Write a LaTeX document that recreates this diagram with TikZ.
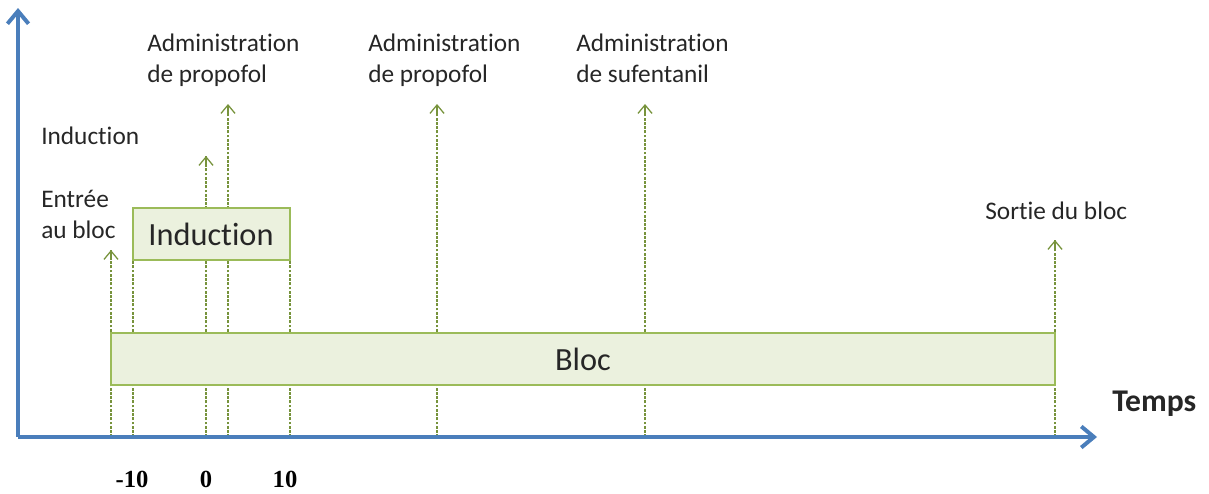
\documentclass[tikz,border=0pt]{standalone}
\usepackage{fontspec}
\setmainfont[Ligatures=NoCommon]{Carlito}
\newfontfamily\tickfont{Liberation Serif}
\usetikzlibrary{arrows.meta,calc,positioning}
\definecolor{axeblue}{RGB}{74,126,187}
\definecolor{vertfil}{RGB}{119,147,60}
\definecolor{vertbord}{RGB}{155,187,89}
\definecolor{vertfond}{RGB}{235,241,222}

\begin{document}
\begin{tikzpicture}[x=0.025cm,y=-0.025cm,
    axe/.style={draw=axeblue,line width=2.8pt,-{Straight Barb[length=9pt,width=15pt]}},
    trait/.style={draw=vertfil,line width=0.8pt,dash pattern=on 2pt off 1pt},
    pointe/.style={draw=vertfil,line width=0.9pt,solid,-{Straight Barb[length=6pt,width=10pt]}},
    boite/.style={draw=vertbord,fill=vertfond,line width=1pt},
    lbl/.style={anchor=north west,inner sep=0pt,align=left,text=black!85,font=\fontsize{18}{22}\selectfont},
    tick/.style={anchor=north,inner sep=0pt,font=\tickfont\bfseries\fontsize{17.5}{20}\selectfont}]
        \useasboundingbox (0,0) rectangle (1209,493);
        % axes
        \coordinate (o) at (18,437);
        \coordinate (ytop) at (18,8);
        \coordinate (xend) at (1097,437);
        % reperes sur l'axe du temps
        \foreach \nm/\x/\h in {entree/111/250,debind/133/260,zero/206/156,propa/228/104,finind/290/230,propb/437/104,sufen/645/104,sortie/1055/240}{
          \coordinate (\nm) at (\x,437);
          \coordinate (\nm H) at (\x,\h);
          \draw[trait] (\nm) -- (\nm H);
        }
        \foreach \nm in {entree,zero,propa,propb,sufen,sortie}
          \draw[pointe] ($(\nm H)+(0,10)$) -- (\nm H);
        % boites
        \draw[boite] (111,333) rectangle (1055,385);
        \node[font=\fontsize{23}{26}\selectfont,text=black!85] (bloc) at (583,359) {Bloc};
        \draw[boite] (133,208) rectangle (290,260);
        \node[font=\fontsize{23}{26}\selectfont,text=black!85] (induc) at (211,234) {Induction};
        \draw[axe] (o) -- (ytop);
        \draw[axe] (o) -- (xend);
        % textes
        \node[lbl] (lentree) at (41,190) {Entr\'ee\\au bloc};
        \node[lbl] (linduc) at (41,127) {Induction};
        \node[lbl] (lpropa) at (147,34) {Administration\\de propofol};
        \node[lbl] (lpropb) at (368,34) {Administration\\de propofol};
        \node[lbl] (lsufen) at (576,34) {Administration\\de sufentanil};
        \node[lbl] (lsortie) at (985,202) {Sortie du bloc};
        \node[lbl,font=\bfseries\fontsize{22.5}{26}\selectfont] (temps) at (1112,391) {Temps};
        \node[tick] (tmoins) at (132,471) {-10};
        \node[tick] (tzero) at (206,471) {0};
        \node[tick] (tdix) at (285,471) {10};
      \end{tikzpicture}
\end{document}
